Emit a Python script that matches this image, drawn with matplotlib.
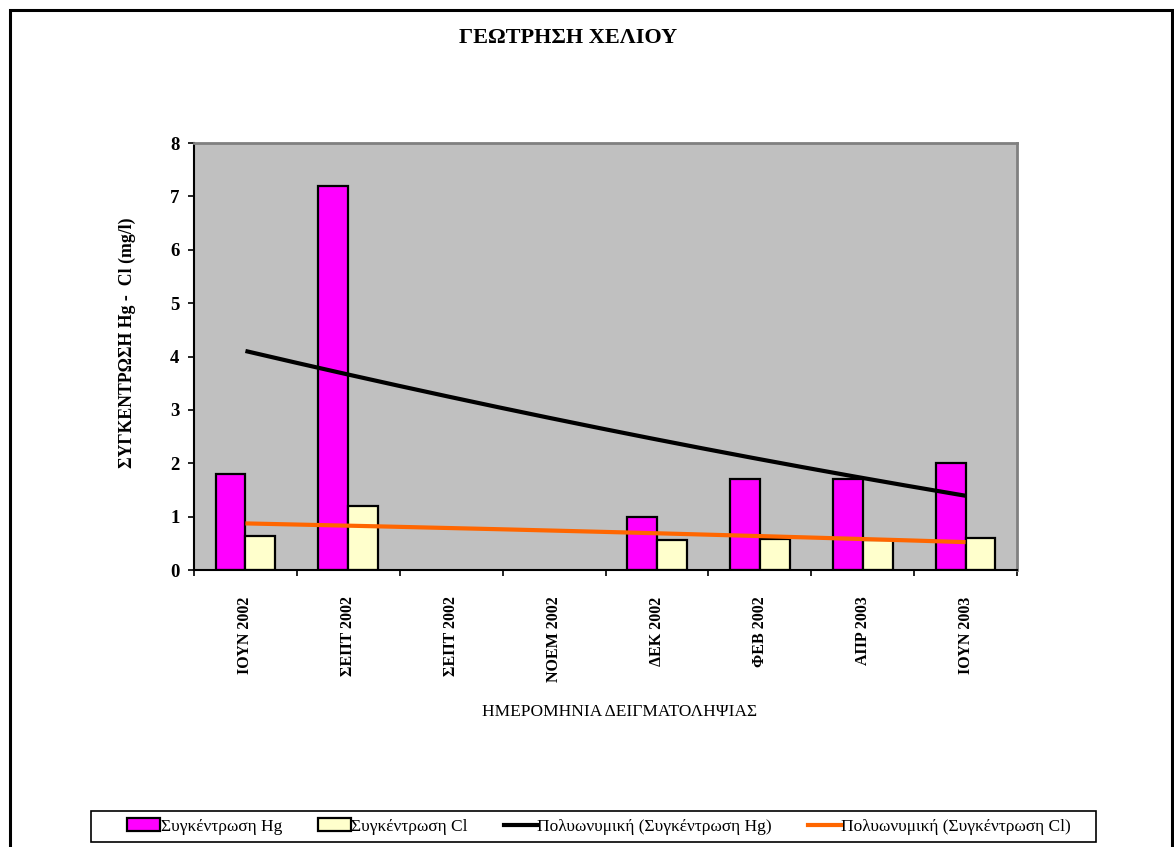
import numpy as np
import matplotlib
matplotlib.use("Agg")
import matplotlib.pyplot as plt
from matplotlib.patches import Rectangle
from matplotlib.lines import Line2D
from matplotlib.ticker import FixedLocator, NullFormatter

plt.rcParams['font.family'] = ['Liberation Serif', 'DejaVu Serif']

# Sampling dates and measured concentrations (mg/l); blanks = no sample
dates = ["ΙΟΥΝ 2002", "ΣΕΠΤ 2002", "ΣΕΠΤ 2002", "ΝΟΕΜ 2002",
         "ΔΕΚ 2002", "ΦΕΒ 2002", "ΑΠΡ 2003", "ΙΟΥΝ 2003"]
hg = [1.8, 7.2, np.nan, np.nan, 1.0, 1.7, 1.7, 2.0]
cl = [0.63, 1.2, np.nan, np.nan, 0.56, 0.58, 0.56, 0.6]

title = "ΓΕΩΤΡΗΣΗ ΧΕΛΙΟΥ"
ylabel = "ΣΥΓΚΕΝΤΡΩΣΗ Hg -  Cl (mg/l)"
xlabel = "ΗΜΕΡΟΜΗΝΙΑ ΔΕΙΓΜΑΤΟΛΗΨΙΑΣ"
legend_labels = ["Συγκέντρωση Hg", "Συγκέντρωση Cl",
                 "Πολυωνυμική (Συγκέντρωση Hg)", "Πολυωνυμική (Συγκέντρωση Cl)"]

W, H = 1174, 847
fig = plt.figure(figsize=(W / 100, H / 100), dpi=100)
fig.patch.set_facecolor("white")

def fx(px):
    return px / W

def fy(py):
    return 1 - py / H

# outer chart frame
fig.patches.append(Rectangle((fx(10), fy(900)), fx(1162), (900 - 10) / H,
                             transform=fig.transFigure, fill=False,
                             edgecolor="black", linewidth=2.2))

left, right, top, bottom = 194, 1017, 143, 570
ax = fig.add_axes([fx(left), fy(bottom), fx(right - left), (bottom - top) / H])
ax.set_facecolor("#C0C0C0")

x = np.arange(len(dates))
hg_a = np.array(hg, dtype=float)
cl_a = np.array(cl, dtype=float)
bw = 0.29

m_hg = np.isfinite(hg_a)
m_cl = np.isfinite(cl_a)
ax.bar(x[m_hg] - bw / 2, hg_a[m_hg], width=bw, color="#FF00FF",
       edgecolor="black", linewidth=1.6, zorder=2)
ax.bar(x[m_cl] + bw / 2, cl_a[m_cl], width=bw, color="#FFFFCC",
       edgecolor="black", linewidth=1.6, zorder=2)

# second-order polynomial trend lines over the sample index (1..8)
t = x + 1.0
tt = np.linspace(t[0], t[-1], 200)
p_hg = np.polyfit(t[m_hg], hg_a[m_hg], 2)
p_cl = np.polyfit(t[m_cl], cl_a[m_cl], 2)
ax.plot(tt - 1, np.polyval(p_hg, tt), color="black", linewidth=3.0,
        zorder=3, solid_capstyle="butt")
ax.plot(tt - 1, np.polyval(p_cl, tt), color="#FF6600", linewidth=3.0,
        zorder=3, solid_capstyle="butt")

ax.set_xlim(-0.5, len(dates) - 0.5)
ax.set_ylim(0, 8)
ax.set_yticks(range(0, 9))
ax.set_yticklabels([str(v) for v in range(0, 9)], fontsize=13.5,
                   fontweight="bold")
ax.tick_params(axis="y", direction="out", length=4.5, width=1.2, pad=6,
               colors="black")

ax.set_xticks(x)
ax.set_xticklabels(dates, rotation=90, fontsize=11.5, fontweight="bold")
ax.tick_params(axis="x", which="major", length=0, pad=19)
ax.xaxis.set_minor_locator(FixedLocator(np.arange(-0.5, len(dates), 1.0)))
ax.xaxis.set_minor_formatter(NullFormatter())
ax.tick_params(axis="x", which="minor", direction="out", length=4.5,
               width=1.2, colors="black")

for side in ("top", "right"):
    ax.spines[side].set_color("#808080")
    ax.spines[side].set_linewidth(2.0)
for side in ("left", "bottom"):
    ax.spines[side].set_color("black")
    ax.spines[side].set_linewidth(1.5)

fig.text(fx(568), fy(38), title, ha="center", va="center", fontsize=16,
         fontweight="bold")
fig.text(fx(127), fy(343), ylabel, ha="center", va="center", rotation=90,
         fontsize=12.8, fontweight="bold")
fig.text(fx(620), fy(712), xlabel, ha="center", va="center", fontsize=12.5)

# legend box
fig.patches.append(Rectangle((fx(91), fy(842)), fx(1096 - 91), (842 - 811) / H,
                             transform=fig.transFigure, fill=True,
                             facecolor="white", edgecolor="black",
                             linewidth=1.2, zorder=1))

handles = [
    Rectangle((0, 0), 1, 1, facecolor="#FF00FF", edgecolor="black", linewidth=1.6),
    Rectangle((0, 0), 1, 1, facecolor="#FFFFCC", edgecolor="black", linewidth=1.6),
    Line2D([], [], color="black", linewidth=3.0),
    Line2D([], [], color="#FF6600", linewidth=3.0),
]
leg = fig.legend(handles, legend_labels, ncol=4, loc="center",
                 bbox_to_anchor=(fx(599), fy(826.5)), fontsize=12.5,
                 frameon=False, handlelength=1.9, handleheight=0.7,
                 handletextpad=0.05, columnspacing=2.05, borderpad=0.0)
leg.set_zorder(5)

fig.savefig("out.png", dpi=100, facecolor="white")
